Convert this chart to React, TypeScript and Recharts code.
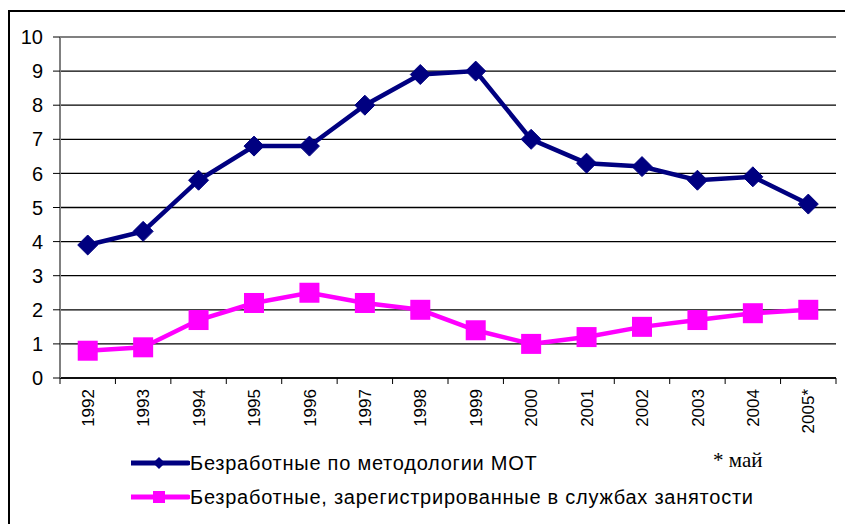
import React from "react";
import {
  CartesianGrid,
  Line,
  LineChart,
  ReferenceLine,
  XAxis,
  YAxis,
} from "recharts";

const years = [
  "1992", "1993", "1994", "1995", "1996", "1997", "1998",
  "1999", "2000", "2001", "2002", "2003", "2004", "2005*",
];
const iloUnemployed = [3.9, 4.3, 5.8, 6.8, 6.8, 8.0, 8.9, 9.0, 7.0, 6.3, 6.2, 5.8, 5.9, 5.1];
const registeredUnemployed = [0.8, 0.9, 1.7, 2.2, 2.5, 2.2, 2.0, 1.4, 1.0, 1.2, 1.5, 1.7, 1.9, 2.0];
const yTicks = [0, 1, 2, 3, 4, 5, 6, 7, 8, 9, 10];

const NAVY = "#000080";
const MAGENTA = "#ff00ff";
const SANS = "'Liberation Sans', Arial, sans-serif";
const W = 845;
const H = 524;
const LEFT = 60;
const RIGHT = 9;
const band = (W - LEFT - RIGHT) / years.length;

const chartData = years.map((year, i) => ({
  year,
  ilo: iloUnemployed[i],
  registered: registeredUnemployed[i],
}));

function Diamond({ cx, cy, r = 10 }: { cx: number; cy: number; r?: number }) {
  return (
    <polygon
      points={`${cx},${cy - r} ${cx + r},${cy} ${cx},${cy + r} ${cx - r},${cy}`}
      fill={NAVY}
      stroke={NAVY}
    />
  );
}

function Square({ cx, cy, s = 10 }: { cx: number; cy: number; s?: number }) {
  return <rect x={cx - s} y={cy - s} width={s * 2} height={s * 2} fill={MAGENTA} />;
}

function YearTick(props: any) {
  const { x, y, payload, index } = props;
  const left = x - band / 2;
  return (
    <g>
      <line x1={left} x2={left} y1={y} y2={y + 6} stroke="#000" />
      {index === years.length - 1 && (
        <line x1={x + band / 2} x2={x + band / 2} y1={y} y2={y + 6} stroke="#000" />
      )}
      <text
        x={x}
        y={y + 11}
        transform={`rotate(-90, ${x}, ${y + 11})`}
        textAnchor="end"
        dy="0.36em"
        fontSize={17}
        fontFamily={SANS}
        fill="#000"
      >
        {payload.value}
      </text>
    </g>
  );
}

function LegendBox() {
  const rows = [
    { label: "Безработные по методологии МОТ", color: NAVY, shape: "diamond" },
    { label: "Безработные, зарегистрированные в службах занятости", color: MAGENTA, shape: "square" },
  ];
  return (
    <div style={{ fontFamily: SANS, fontSize: 20, letterSpacing: 0.75, color: "#000" }}>
      {rows.map((r) => (
        <div key={r.label} style={{ display: "flex", alignItems: "center", height: 34 }}>
          <svg width={59} height={20} style={{ flex: "none" }}>
            <line x1={0} x2={57} y1={10} y2={10} stroke={r.color} strokeWidth={5} strokeLinecap="round" />
            {r.shape === "diamond" ? (
              <polygon points="28,4 34,10 28,16 22,10" fill={r.color} />
            ) : (
              <rect x={22} y={4} width={12} height={12} fill={r.color} />
            )}
          </svg>
          <span style={{ whiteSpace: "nowrap" }}>{r.label}</span>
        </div>
      ))}
    </div>
  );
}

export default function App() {
  return (
    <div
      style={{
        position: "fixed",
        left: 0,
        top: 0,
        width: W,
        height: H,
        overflow: "hidden",
        background: "#fff",
      }}
    >
      <div
        style={{
          position: "absolute",
          left: 8,
          top: 10,
          width: 900,
          height: 600,
          border: "2px solid #000",
        }}
      />
      <div style={{ position: "absolute", left: 0, top: 0 }}>
        <LineChart
          width={W}
          height={H}
          data={chartData}
          margin={{ top: 37, right: RIGHT, left: 0, bottom: 0 }}
        >
          <CartesianGrid vertical={false} stroke="#000" strokeWidth={1.3} />
          <XAxis
            dataKey="year"
            scale="band"
            height={146}
            interval={0}
            tickLine={false}
            tickSize={0}
            tickMargin={0}
            axisLine={{ stroke: "#000", strokeWidth: 1.5 }}
            tick={<YearTick />}
          />
          <YAxis
            width={LEFT}
            domain={[0, 10]}
            ticks={yTicks}
            interval={0}
            tick={{ fontSize: 20, fill: "#000", fontFamily: SANS }}
            tickLine={{ stroke: "#000" }}
            tickSize={7}
            tickMargin={10}
            axisLine={{ stroke: "#808080", strokeWidth: 2 }}
          />
          <YAxis
            yAxisId="frame"
            orientation="right"
            width={0}
            domain={[0, 10]}
            tick={false}
            tickLine={false}
            axisLine={{ stroke: "#808080", strokeWidth: 2 }}
          />
          <ReferenceLine y={10} stroke="#808080" strokeWidth={2} />
          <Line
            dataKey="ilo"
            stroke={NAVY}
            strokeWidth={4.5}
            isAnimationActive={false}
            dot={(p: any) => <Diamond key={`d${p.index}`} cx={p.cx} cy={p.cy} />}
          />
          <Line
            dataKey="registered"
            stroke={MAGENTA}
            strokeWidth={4.5}
            isAnimationActive={false}
            dot={(p: any) => <Square key={`s${p.index}`} cx={p.cx} cy={p.cy} />}
          />
        </LineChart>
      </div>
      <div style={{ position: "absolute", left: 131, top: 446 }}>
        <LegendBox />
      </div>
      <div
        style={{
          position: "absolute",
          left: 713,
          top: 448,
          fontFamily: "'Liberation Serif', 'Times New Roman', serif",
          fontSize: 21,
          color: "#000",
        }}
      >
        * май
      </div>
    </div>
  );
}
